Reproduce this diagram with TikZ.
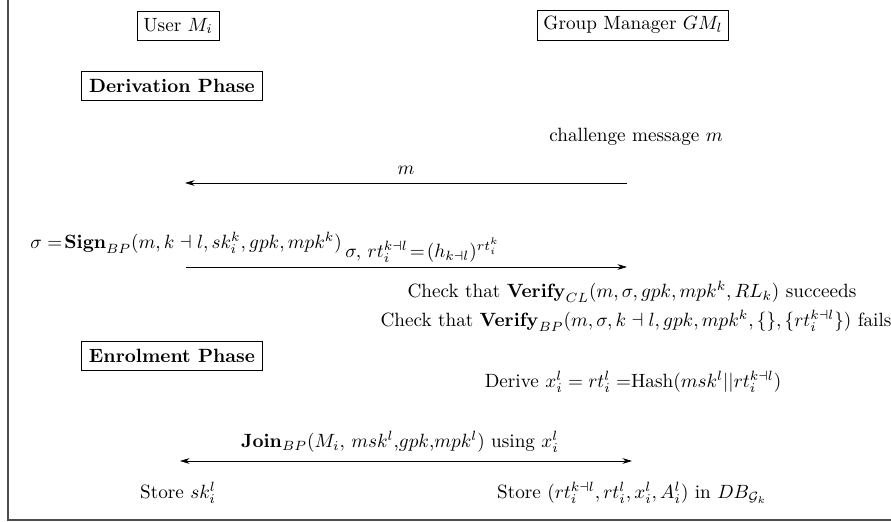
\documentclass[tikz,border=0pt]{standalone}
\usetikzlibrary{arrows.meta}
\begin{document}
\begin{tikzpicture}[x=0.521pt,y=-0.521pt,
  party/.style={draw,inner sep=3.3pt},
  phase/.style={draw,font=\bfseries,inner sep=4pt},
  msg/.style={-{Stealth[length=5pt,width=3pt]}},
  dmsg/.style={{Stealth[length=5pt,width=3pt]}-{Stealth[length=5pt,width=3pt]}},
  frame/.style={draw=black!70,line width=1pt},
  txt/.style={inner sep=0pt}]
\useasboundingbox (0,0) rectangle (891,522);
\coordinate (ftop) at (8,0);
\coordinate (fcorner) at (8,520);
\coordinate (fright) at (891,520);
\draw[frame] (ftop) -- (fcorner) -- (fright);

\node[party] (user) at (178,26) {User $M_i$};
\node[party] (gm) at (633,25) {Group Manager $GM_l$};
\node[phase] (deriv) at (172,86) {Derivation Phase};
\node[txt] (chal) at (636,137) {challenge message $m$};

\coordinate (m1) at (627,183);
\coordinate (m2) at (185,183);
\draw[msg] (m1) -- node[above=1pt] (ml) {$m$} (m2);

\node[txt,anchor=west] (sign) at (30,243) {$\sigma = \!\mathbf{Sign}_{BP}(m, k\dashv l, sk_i^k, gpk, mpk^k)$};
\coordinate (s1) at (186,267);
\coordinate (s2) at (627,267);
\draw[msg] (s1) -- (s2);
\node[txt,anchor=west] (sl) at (345,250) {$\sigma,\, rt_i^{k\dashv l}\!=\!(h_{k\dashv l})^{rt_i^k}$};

\node[txt] (chk1) at (632,292) {Check that $\mathbf{Verify}_{CL}(m,\sigma,gpk,mpk^k,RL_k)$ succeeds};
\node[txt] (chk2) at (636,321) {Check that $\mathbf{Verify}_{BP}(m,\sigma,k\dashv l,gpk,mpk^k,\{\},\{rt_i^{k\dashv l}\})$ fails};

\node[phase] (enrol) at (172,356) {Enrolment Phase};
\node[txt] (derive) at (633,382) {Derive $x_i^l = rt_i^l = $Hash$(msk^l || rt_i^{k\dashv l})$};

\coordinate (j1) at (180,461);
\coordinate (j2) at (632,461);
\draw[dmsg] (j1) -- (j2);
\node[txt] (jl) at (400,442) {$\mathbf{Join}_{BP}(M_i,\, msk^l$,$gpk$,$mpk^l)$ using $x_i^l$};

\node[txt] (st1) at (178,493) {Store $sk_i^l$};
\node[txt] (st2) at (632,493) {Store $(rt_i^{k\dashv l}, rt_i^l, x_i^l, A_i^l)$ in $DB_{\mathcal{G}_k}$};
\end{tikzpicture}
\end{document}
